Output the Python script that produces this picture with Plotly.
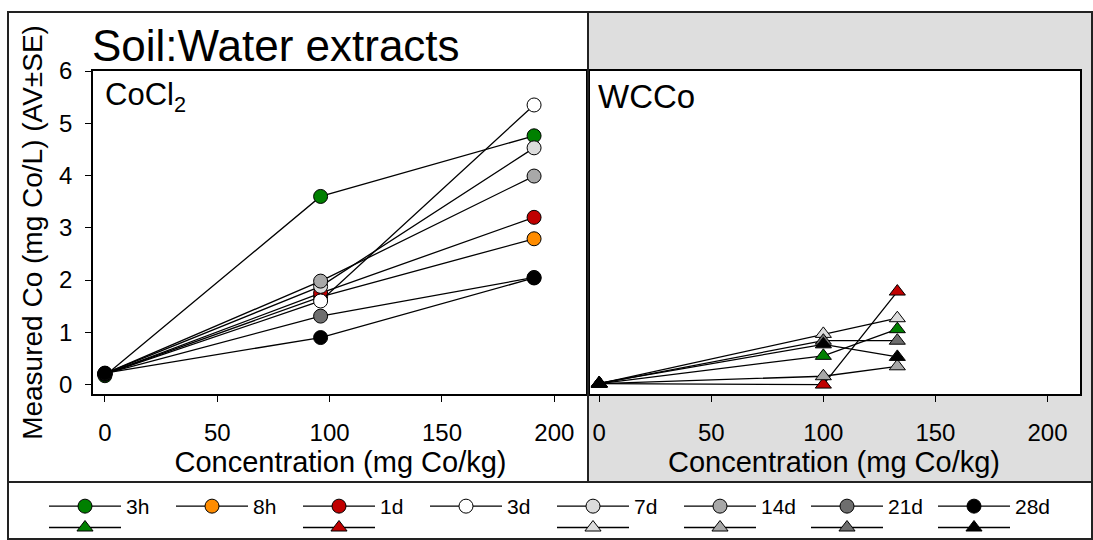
import plotly.graph_objects as go

W, H = 1093, 540

# ---------------- data ----------------
series = ["3h", "8h", "1d", "3d", "7d", "14d", "21d", "28d"]
colors = ["#008000", "#ff8c00", "#c00000", "#ffffff", "#dcdcdc", "#a8a8a8", "#6e6e6e", "#000000"]

conc_cocl2 = [0, 96, 191]
cocl2_3h = [0.17, 3.60, 4.76]
cocl2_8h = [0.20, 1.68, 2.79]
cocl2_1d = [0.20, 1.75, 3.20]
cocl2_3d = [0.20, 1.60, 5.35]
cocl2_7d = [0.21, 1.88, 4.53]
cocl2_14d = [0.21, 1.98, 3.99]
cocl2_21d = [0.21, 1.31, 2.05]
cocl2_28d = [0.22, 0.90, 2.04]
cocl2_vals = [cocl2_3h, cocl2_8h, cocl2_1d, cocl2_3d, cocl2_7d, cocl2_14d, cocl2_21d, cocl2_28d]

conc_wcco = [0, 100, 133]
wcco_3h = [0.02, 0.55, 1.06]
wcco_1d = [0.02, 0.00, 1.78]
wcco_7d = [0.02, 0.97, 1.27]
wcco_14d = [0.02, 0.16, 0.35]
wcco_21d = [0.02, 0.84, 0.84]
wcco_28d = [0.03, 0.77, 0.53]
wcco_vals = {"3h": wcco_3h, "1d": wcco_1d, "7d": wcco_7d, "14d": wcco_14d,
             "21d": wcco_21d, "28d": wcco_28d}

x_ticks = [0, 50, 100, 150, 200]
y_ticks = [0, 1, 2, 3, 4, 5, 6]

FONT = "Liberation Sans, Arial, sans-serif"


def px(x):
    return x / W


def py(y):
    return 1 - y / H


fig = go.Figure()

# CoCl2 panel (circles)
for name, col, vals in zip(series, colors, cocl2_vals):
    fig.add_trace(go.Scatter(
        x=conc_cocl2, y=vals, name=name, mode="lines+markers",
        line=dict(color="black", width=1.3),
        marker=dict(symbol="circle", size=14, color=col, line=dict(color="black", width=1)),
        xaxis="x", yaxis="y", legend="legend"))

# WCCo panel (triangles)
for name, col in zip(series, colors):
    if name in wcco_vals:
        fig.add_trace(go.Scatter(
            x=conc_wcco, y=wcco_vals[name], name=name, mode="lines+markers",
            line=dict(color="black", width=1.3),
            marker=dict(symbol="triangle-up", size=14, color=col, line=dict(color="black", width=1)),
            xaxis="x2", yaxis="y2", legend="legend2"))
    else:
        # placeholder legend slot (no WCCo series for this time point)
        fig.add_trace(go.Scatter(
            x=[None], y=[None], name=name, mode="lines",
            line=dict(color="rgba(0,0,0,0)", width=1),
            xaxis="x2", yaxis="y2", legend="legend2", hoverinfo="skip"))

ax_common = dict(showline=True, mirror=True, linecolor="black", linewidth=1.5,
                 showgrid=False, zeroline=False, ticks="outside", ticklen=6,
                 tickcolor="black", tickwidth=1.2,
                 tickfont=dict(family=FONT, size=24, color="black"))

leg_common = dict(orientation="h", x=px(44), xanchor="left", yanchor="top",
                  entrywidth=40, entrywidthmode="pixels", itemwidth=72,
                  bgcolor="rgba(0,0,0,0)", traceorder="normal", tracegroupgap=0)

fig.update_layout(
    width=W, height=H,
    margin=dict(l=0, r=0, t=0, b=0, autoexpand=False),
    paper_bgcolor="white", plot_bgcolor="white",
    font=dict(family=FONT, color="black"),
    xaxis=dict(domain=[px(93), px(588)], range=[-5.3, 215], tickvals=x_ticks,
               anchor="y", ticklabelstandoff=10,
               title=dict(text="Concentration (mg Co/kg)", font=dict(size=29), standoff=6),
               **ax_common),
    yaxis=dict(domain=[py(394), py(71)], range=[-0.18, 6.0], tickvals=y_ticks,
               anchor="x", ticklabelstandoff=8,
               title=dict(text="Measured Co (mg Co/L) (AV±SE)", font=dict(size=28), standoff=8),
               **ax_common),
    xaxis2=dict(domain=[px(588), px(1080)], range=[-5, 214.5], tickvals=x_ticks,
                anchor="y2", ticklabelstandoff=10,
                title=dict(text="Concentration (mg Co/kg)", font=dict(size=29), standoff=6),
                **ax_common),
    yaxis2=dict(domain=[py(394), py(71)], range=[-0.18, 6.0], anchor="x2",
                showline=True, mirror=True, linecolor="black", linewidth=1.5,
                showgrid=False, zeroline=False, showticklabels=False, ticks=""),
    legend=dict(y=py(486), font=dict(family=FONT, size=21, color="black"), **leg_common),
    legend2=dict(y=py(513), font=dict(family=FONT, size=12, color="rgba(0,0,0,0)"), **leg_common),
    showlegend=True,
)

shapes = [
    # gray background on the WCCo side
    dict(type="rect", xref="paper", yref="paper", x0=px(588), x1=1, y0=py(482), y1=py(12),
         fillcolor="#dedede", line=dict(width=0), layer="below"),
    # white plot area of WCCo panel
    dict(type="rect", xref="x2 domain", yref="y2 domain", x0=0, x1=1, y0=0, y1=1,
         fillcolor="white", line=dict(width=0), layer="below"),
    # outer frame
    dict(type="rect", xref="paper", yref="paper", x0=px(8), x1=px(1092), y0=py(539), y1=py(12),
         line=dict(color="#222222", width=2), fillcolor="rgba(0,0,0,0)"),
    # legend divider
    dict(type="line", xref="paper", yref="paper", x0=px(8), x1=px(1092), y0=py(482), y1=py(482),
         line=dict(color="#222222", width=2)),
    # panel divider
    dict(type="line", xref="paper", yref="paper", x0=px(588), x1=px(588), y0=py(482), y1=py(12),
         line=dict(color="#222222", width=2)),
]
fig.update_layout(shapes=shapes)

fig.add_annotation(text="Soil:Water extracts", xref="paper", yref="paper",
                   x=px(90), y=py(45), xanchor="left", yanchor="middle", showarrow=False,
                   font=dict(family=FONT, size=44, color="black"))
fig.add_annotation(text="CoCl<sub>2</sub>", xref="paper", yref="paper",
                   x=px(103), y=py(97), xanchor="left", yanchor="middle", showarrow=False,
                   font=dict(family=FONT, size=31, color="black"))
fig.add_annotation(text="WCCo", xref="paper", yref="paper",
                   x=px(596), y=py(97), xanchor="left", yanchor="middle", showarrow=False,
                   font=dict(family=FONT, size=33, color="black"))

fig.write_html("out.html")
